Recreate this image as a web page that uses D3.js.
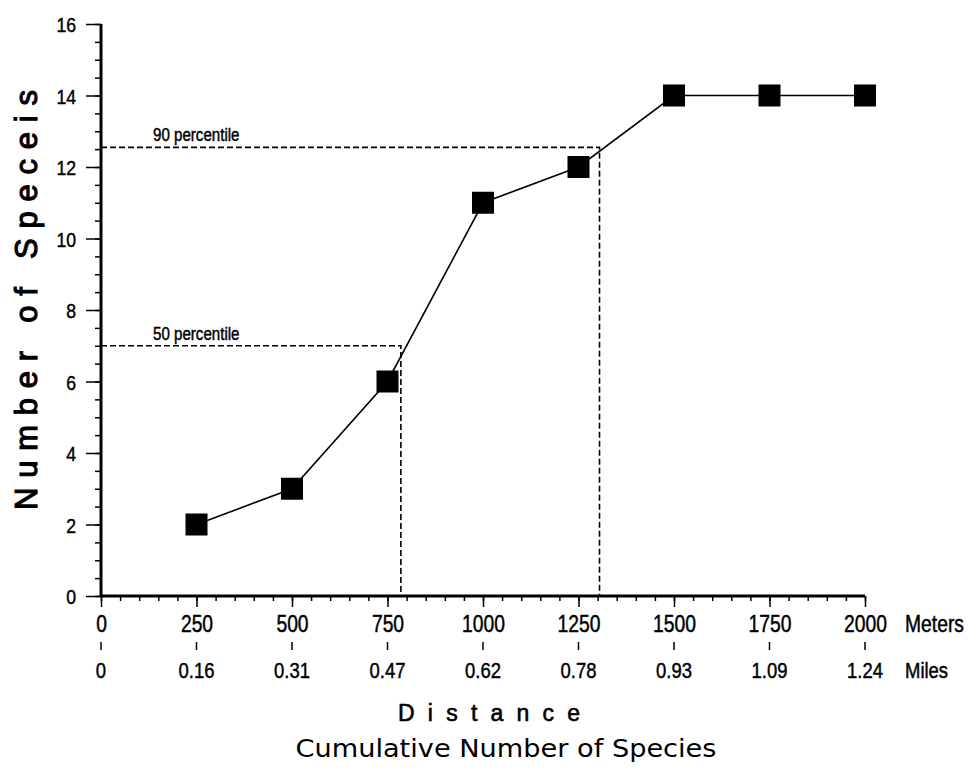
<!DOCTYPE html>
<html>
<head>
<meta charset="utf-8">
<script src="https://cdn.jsdelivr.net/npm/d3@7"></script>
<style>
  body { margin: 0; background: #fff; }
  svg { display: block; }
</style>
</head>
<body>
<div id="area"></div>
<script>
// chart data
var meters = [250, 500, 750, 1000, 1250, 1500, 1750, 2000];
var species = [2, 3, 6, 11, 12, 14, 14, 14];
var meterTicks = [0, 250, 500, 750, 1000, 1250, 1500, 1750, 2000];
var mileLabels = ["0", "0.16", "0.31", "0.47", "0.62", "0.78", "0.93", "1.09", "1.24"];
var yTicks = [0, 2, 4, 6, 8, 10, 12, 14, 16];
var percentileNames = ["50 percentile", "90 percentile"];
var percentileValues = [7, 12.55];
var percentileDistances = [785, 1305];

var width = 968, height = 770;
var font = '"Liberation Sans", Arial, sans-serif';
var squeeze = 0.84;   // narrow look of the scanned labels

var svg = d3.select('#area').append('svg')
	.attr('width', width).attr('height', height);

var x = d3.scaleLinear().domain([0, 2000]).range([101, 865]);
var y = d3.scaleLinear().domain([0, 16]).range([596, 24]);

//small helper so all the scanned-looking labels get the same ink
var ink = function(sel, size){
	sel.style('font-family', font).style('font-size', size + 'px')
		.attr('fill', '#000').attr('stroke', '#000').attr('stroke-width', 0.45);
};

//Y axis: major ticks every 2, minor every 0.5
var yAxis = svg.append('g').attr('transform', 'translate(' + x(0) + ',0)');
yAxis.call(d3.axisLeft(y).tickValues(d3.range(0, 16.01, 0.5)).tickSize(6).tickFormat(''));
yAxis.selectAll('.tick line').attr('stroke-width', 1.5);
yAxis.select('.domain').attr('d', 'M0,' + y(16) + 'V' + y(0)).attr('stroke-width', 3);
yAxis.append('g').call(d3.axisLeft(y).tickValues(yTicks).tickSize(15).tickFormat(d3.format('d')))
	.call(g => g.select('.domain').remove())
	.call(g => g.selectAll('.tick line').attr('stroke-width', 1.5))
	.call(g => g.selectAll('text')
		.attr('x', -25 / squeeze).attr('dy', '0.36em')
		.attr('transform', 'scale(' + squeeze + ',1)')
		.call(ink, 21));

//X axis: major ticks every 250, minor every 50
var xAxis = svg.append('g').attr('transform', 'translate(0,' + y(0) + ')');
xAxis.call(d3.axisBottom(x).tickValues(d3.range(0, 2001, 50)).tickSize(5).tickFormat(''));
xAxis.selectAll('.tick line').attr('stroke-width', 1.5);
xAxis.select('.domain').attr('d', 'M' + x(0) + ',0H' + x(2000)).attr('stroke-width', 3);
xAxis.append('g').call(d3.axisBottom(x).tickValues(meterTicks).tickSize(11).tickFormat(d3.format('d')))
	.call(g => g.select('.domain').remove())
	.call(g => g.selectAll('.tick line').attr('stroke-width', 1.5))
	.call(g => g.selectAll('text')
		.attr('y', 36).attr('dy', null)
		.attr('transform', 'scale(' + squeeze + ',1)')
		.call(ink, 23));

//Miles row
var miles = svg.append('g');
miles.selectAll('line').data(meterTicks).enter().append('line')
	.attr('x1', d => x(d)).attr('x2', d => x(d))
	.attr('y1', 642).attr('y2', 650)
	.attr('stroke', '#000').attr('stroke-width', 1.5);
miles.selectAll('text').data(meterTicks).enter().append('text')
	.attr('transform', d => 'translate(' + x(d) + ',678) scale(' + squeeze + ',1)')
	.attr('text-anchor', 'middle')
	.call(ink, 22)
	.text((d, i) => mileLabels[i]);

svg.append('text').attr('transform', 'translate(905,632) scale(' + squeeze + ',1)')
	.call(ink, 23).text('Meters');
svg.append('text').attr('transform', 'translate(905,678) scale(' + squeeze + ',1)')
	.call(ink, 22).text('Miles');

//Percentile guide lines
var guides = svg.append('g');
percentileValues.forEach(function(v, i){
	var px = x(percentileDistances[i]), py = y(v);
	guides.append('path')
		.attr('d', 'M' + x(0) + ',' + py + 'H' + px + 'V' + y(0))
		.attr('fill', 'none').attr('stroke', '#000')
		.attr('stroke-width', 1.6).attr('stroke-dasharray', '6,3');
	guides.append('text')
		.attr('transform', 'translate(153,' + (py - 6) + ') scale(' + squeeze + ',1)')
		.call(ink, 18)
		.text(percentileNames[i]);
});

//Data line and square markers
var pts = meters.map((m, i) => [x(m), y(species[i])]);
svg.append('path')
	.attr('d', d3.line()(pts))
	.attr('fill', 'none').attr('stroke', '#000').attr('stroke-width', 1.6);
svg.selectAll('rect.marker').data(pts).enter().append('rect')
	.attr('class', 'marker')
	.attr('x', d => d[0] - 11).attr('y', d => d[1] - 11)
	.attr('width', 22).attr('height', 22)
	.attr('fill', '#000');

//Axis titles
svg.append('text')
	.attr('transform', 'translate(37,300) rotate(-90)')
	.attr('text-anchor', 'middle')
	.style('font-family', font)
	.style('font-size', '31px')
	.attr('stroke', '#000').attr('stroke-width', 1.1)
	.attr('textLength', 420).attr('lengthAdjust', 'spacing')
	.text('Number of Speceis');

svg.append('text')
	.attr('x', 489).attr('y', 721)
	.attr('text-anchor', 'middle')
	.style('font-family', font)
	.style('font-size', '23px')
	.attr('stroke', '#000').attr('stroke-width', 0.6)
	.attr('textLength', 182).attr('lengthAdjust', 'spacing')
	.text('Distance');

svg.append('text')
	.attr('x', 506).attr('y', 757)
	.attr('text-anchor', 'middle')
	.style('font-family', '"DejaVu Sans", sans-serif')
	.style('font-size', '25px')
	.attr('textLength', 421).attr('lengthAdjust', 'spacingAndGlyphs')
	.text('Cumulative Number of Species');
</script>
</body>
</html>
